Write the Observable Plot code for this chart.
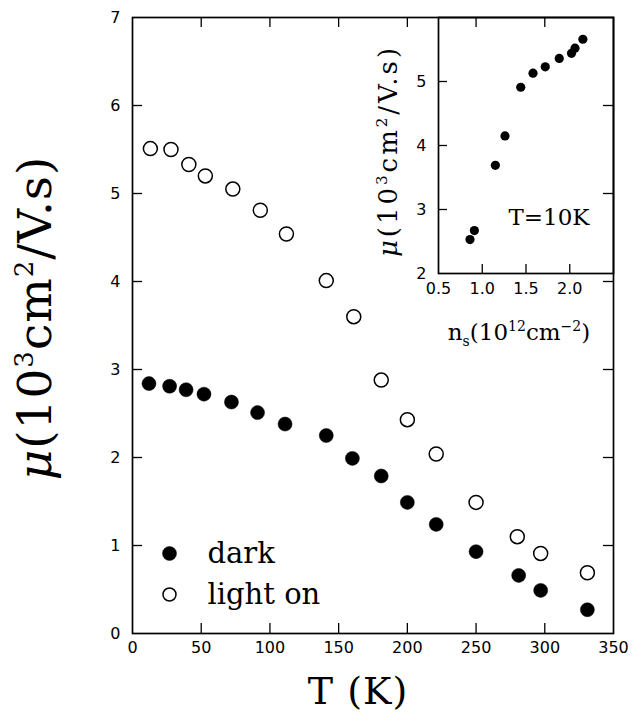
<!DOCTYPE html>
<html>
<head>
<meta charset="utf-8">
<script src="https://cdn.jsdelivr.net/npm/d3@7"></script>
<script src="https://cdn.jsdelivr.net/npm/@observablehq/plot@0.6"></script>
<style>
html, body { margin: 0; padding: 0; background: #fff; }
#chart { position: relative; width: 642px; height: 721px; }
#chart > svg { position: absolute; }
</style>
</head>
<body>
<div id="chart"></div>
<script>
// ---- data ----
const temperatureDark = [12, 27, 39, 52, 72, 91, 111, 141, 160, 181, 200, 221, 250, 281, 297, 331];
const mobilityDark = [2.84, 2.81, 2.77, 2.72, 2.63, 2.51, 2.38, 2.25, 1.99, 1.79, 1.49, 1.24, 0.93, 0.66, 0.49, 0.27];
const temperatureLight = [13, 28, 41, 53, 73, 93, 112, 141, 161, 181, 200, 221, 250, 280, 297, 331];
const mobilityLight = [5.51, 5.50, 5.33, 5.20, 5.05, 4.81, 4.54, 4.01, 3.60, 2.88, 2.43, 2.04, 1.49, 1.10, 0.91, 0.69];
const densityInset = [0.86, 0.91, 1.15, 1.26, 1.44, 1.58, 1.72, 1.88, 2.02, 2.06, 2.15];
const mobilityInset = [2.53, 2.67, 3.69, 4.15, 4.91, 5.13, 5.23, 5.36, 5.44, 5.52, 5.66];
const xTicksMain = [0, 50, 100, 150, 200, 250, 300, 350];
const yTicksMain = [0, 1, 2, 3, 4, 5, 6, 7];
const xTicksInset = [0.5, 1.0, 1.5, 2.0];
const yTicksInset = [2, 3, 4, 5];
const legendLabels = ["dark", "light on"];
const insetNote = "T=10K";

const dark = temperatureDark.map((t, i) => ({T: t, mu: mobilityDark[i]}));
const light = temperatureLight.map((t, i) => ({T: t, mu: mobilityLight[i]}));
const inset = densityInset.map((n, i) => ({n, mu: mobilityInset[i]}));

const SANS = "'DejaVu Sans', Verdana, sans-serif";
const SERIF = "'DejaVu Serif', serif";

// ---- main chart ----
const W = 642, H = 721, mL = 132, mR = 29, mT = 17, mB = 88;
const innerW = W - mL - mR, innerH = H - mT - mB, tk = 10;

const main = Plot.plot({
  width: W, height: H,
  marginLeft: mL, marginRight: mR, marginTop: mT, marginBottom: mB,
  style: {background: "transparent", fontFamily: SANS, fontSize: "16px", color: "#000"},
  x: {domain: [0, 350], label: null},
  y: {domain: [0, 7], label: null},
  marks: [
    Plot.frame({stroke: "#000", strokeWidth: 1.7}),
    Plot.axisX(xTicksMain, {anchor: "bottom", tickSize: 0, tickPadding: 8, tickFormat: d3.format("d"), label: null, fontSize: 16}),
    Plot.axisY(yTicksMain, {anchor: "left", tickSize: 0, tickPadding: 12, tickFormat: d3.format("d"), label: null, fontSize: 16}),
    Plot.tickX(xTicksMain.slice(1, -1), {x: d => d, insetTop: innerH - tk, stroke: "#000", strokeWidth: 1.3}),
    Plot.tickX(xTicksMain.slice(1, -1), {x: d => d, insetBottom: innerH - tk, stroke: "#000", strokeWidth: 1.3}),
    Plot.tickY(yTicksMain.slice(1, -1), {y: d => d, insetRight: innerW - tk, stroke: "#000", strokeWidth: 1.3}),
    Plot.tickY(yTicksMain.slice(1, -1), {y: d => d, insetLeft: innerW - tk, stroke: "#000", strokeWidth: 1.3}),
    Plot.dot(dark, {x: "T", y: "mu", r: 7, fill: "#000", stroke: "#000", strokeWidth: 0.5}),
    Plot.dot(light, {x: "T", y: "mu", r: 7, fill: "#fff", stroke: "#000", strokeWidth: 1.5}),
    // legend
    Plot.dot([legendLabels[0]], {frameAnchor: "bottom-left", dx: 37, dy: -80, r: 7, fill: "#000", stroke: "#000", strokeWidth: 0.5}),
    Plot.dot([legendLabels[1]], {frameAnchor: "bottom-left", dx: 37, dy: -39, r: 6.5, fill: "#fff", stroke: "#000", strokeWidth: 1.5}),
    Plot.text([legendLabels[0]], {text: d => d, frameAnchor: "bottom-left", dx: 75, dy: -80, textAnchor: "start", lineAnchor: "middle", fontSize: 29, fontFamily: SERIF}),
    Plot.text([legendLabels[1]], {text: d => d, frameAnchor: "bottom-left", dx: 75, dy: -39, textAnchor: "start", lineAnchor: "middle", fontSize: 29, fontFamily: SERIF})
  ]
});
main.style.left = "0px";
main.style.top = "0px";

// ---- inset chart ----
const iX = 370;
const iW = 272, iH = 320, iL = 68, iR = 29, iT = 17, iB = 47;
const iInnerW = iW - iL - iR, iInnerH = iH - iT - iB, itk = 9;
const insetSvg = Plot.plot({
  width: iW, height: iH,
  marginLeft: iL, marginRight: iR, marginTop: iT, marginBottom: iB,
  style: {background: "transparent", fontFamily: SANS, fontSize: "16px", color: "#000", overflow: "visible"},
  x: {domain: [0.5, 2.5], label: null},
  y: {domain: [2, 6], label: null},
  marks: [
    Plot.frame({stroke: "#000", strokeWidth: 1.7}),
    Plot.axisX(xTicksInset, {anchor: "bottom", tickSize: 0, tickPadding: 9, tickFormat: d3.format(".1f"), label: null, fontSize: 16}),
    Plot.axisY(yTicksInset, {anchor: "left", tickSize: 0, tickPadding: 12, tickFormat: d3.format("d"), label: null, fontSize: 16}),
    Plot.tickX(xTicksInset.slice(1), {x: d => d, insetTop: iInnerH - itk, stroke: "#000", strokeWidth: 1.3}),
    Plot.tickY(yTicksInset.slice(1), {y: d => d, insetRight: iInnerW - itk, stroke: "#000", strokeWidth: 1.3}),
    Plot.dot(inset, {x: "n", y: "mu", r: 4.6, fill: "#000"}),
    Plot.text([insetNote], {text: d => d, frameAnchor: "bottom-right", dx: -24, dy: -56, textAnchor: "end", lineAnchor: "middle", fontSize: 23, fontFamily: SERIF})
  ]
});
insetSvg.style.left = iX + "px";
insetSvg.style.top = "0px";

// ---- axis titles (rich text) ----
const svg = d3.select(main);
function rich(g, parts, sup) {
  parts.forEach(p => {
    const t = g.append("tspan").text(p.t);
    if (p.it) t.attr("font-style", "italic");
    if (p.sup) t.attr("font-size", sup);
    if (p.dy) t.attr("dy", p.dy);
  });
}

// main y title
const yt = svg.append("text")
  .attr("transform", "translate(51,318) rotate(-90)")
  .attr("text-anchor", "middle")
  .attr("font-family", SERIF).attr("font-size", 47).attr("fill", "#000")
  .attr("letter-spacing", 1);
rich(yt, [
  {t: "μ", it: true}, {t: "(10"}, {t: "3", sup: true, dy: -18}, {t: "cm", dy: 18},
  {t: "2", sup: true, dy: -18}, {t: "/V.s)", dy: 18}
], 26);

// main x title
svg.append("text")
  .attr("x", 358).attr("y", 704)
  .attr("text-anchor", "middle")
  .attr("font-family", SERIF).attr("font-size", 38).attr("fill", "#000")
  .attr("letter-spacing", 1)
  .text("T (K)");

// inset titles
const iyt = svg.append("text")
  .attr("transform", "translate(397,151) rotate(-90)")
  .attr("text-anchor", "middle")
  .attr("font-family", SERIF).attr("font-size", 26).attr("fill", "#000")
  .attr("letter-spacing", 3);
rich(iyt, [
  {t: "μ", it: true}, {t: "(10"}, {t: "3", sup: true, dy: -10}, {t: "cm", dy: 10},
  {t: "2", sup: true, dy: -10}, {t: "/V.s)", dy: 10}
], 15);

const ixt = svg.append("text")
  .attr("x", 519).attr("y", 340)
  .attr("text-anchor", "middle")
  .attr("font-family", SERIF).attr("font-size", 23).attr("fill", "#000");
rich(ixt, [
  {t: "n"}, {t: "s", sup: true, dy: 6}, {t: "(10", dy: -6}, {t: "12", sup: true, dy: -9},
  {t: "cm", dy: 9}, {t: "−2", sup: true, dy: -9}, {t: ")", dy: 9}
], 14);

const chart = document.getElementById("chart");
chart.appendChild(main);
chart.appendChild(insetSvg);
</script>
</body>
</html>
